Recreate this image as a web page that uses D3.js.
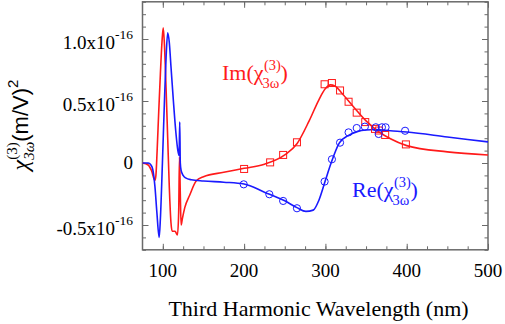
<!DOCTYPE html>
<html>
<head>
<meta charset="utf-8">
<script src="https://cdn.jsdelivr.net/npm/d3@7"></script>
<style>
  body { margin: 0; background: #fff; }
  text { font-family: "Liberation Serif", "Times New Roman", serif; }
</style>
</head>
<body>
<script>
// values in units of 1e-16 (m/V)^2, wavelength in nm
const reLineX = [75, 80, 82, 86.6, 90.3, 92.7, 95.5, 97, 99.5, 102, 104, 106, 108, 110, 113, 116, 118.5, 120, 120.8, 121.5, 122.5, 125, 128, 135, 150, 175, 200, 225, 250, 265, 276, 285, 292, 300, 307, 317, 329, 340, 350, 362, 380, 400, 450, 500];
const reLineY = [0, 0, 0, -0.03, -0.19, -0.4, -0.6, -0.45, 0, 0.5, 0.85, 1.05, 0.97, 0.78, 0.5, 0.25, 0.1, 0.06, 0.33, 0, -0.06, -0.1, -0.12, -0.135, -0.145, -0.155, -0.17, -0.235, -0.305, -0.36, -0.39, -0.38, -0.3, -0.14, 0, 0.16, 0.225, 0.255, 0.266, 0.27, 0.26, 0.25, 0.21, 0.17];

const imLineX = [75, 82, 86, 90.3, 91.5, 93, 95, 97, 99, 100.5, 102, 104, 106, 108, 110, 111.5, 115, 118, 119.5, 120.5, 121.5, 122.5, 124, 127, 133, 141, 150, 175, 200, 225, 250, 265, 280, 292, 300, 306, 312, 320, 335, 350, 365, 380, 400, 450, 500];
const imLineY = [0, -0.016, -0.06, -0.14, -0.1, 0.1, 0.42, 0.72, 0.98, 1.09, 0.95, 0.6, 0.2, -0.2, -0.48, -0.55, -0.55, -0.58, -0.4, 0.05, -0.25, -0.5, -0.45, -0.36, -0.26, -0.145, -0.11, -0.075, -0.043, -0.01, 0.065, 0.155, 0.34, 0.51, 0.6, 0.63, 0.62, 0.565, 0.45, 0.34, 0.255, 0.195, 0.14, 0.09, 0.065];

const imDataX = [200, 232, 248, 265, 299, 308, 318, 328.5, 338.5, 349, 361, 366, 373.5, 399];
const imDataY = [-0.048, 0.005, 0.065, 0.167, 0.635, 0.645, 0.585, 0.494, 0.406, 0.33, 0.275, 0.262, 0.226, 0.15];

const reDataX = [199.5, 231, 248, 265, 299, 308, 318, 328.5, 338.5, 348.5, 362, 365.5, 369.5, 374, 398];
const reDataY = [-0.172, -0.252, -0.306, -0.365, -0.15, 0.03, 0.164, 0.247, 0.282, 0.293, 0.288, 0.234, 0.288, 0.288, 0.26];

const xTicks = [100, 200, 300, 400, 500];
const yTicks = [1.0, 0.5, 0, -0.5];
const yTickLabels = ["1.0x10", "0.5x10", "0", "-0.5x10"];

const width = 505, height = 324;
const mLeft = 142.5, mRight = 488, mTop = 1.8, mBottom = 249.8;
const red = "#ff1a1a", blue = "#1a1aff", frame = "#6a6a6a";

const svg = d3.select("body").append("svg")
  .attr("width", width)
  .attr("height", height);

const x = d3.scaleLinear().domain([75, 500]).range([mLeft, mRight]);
const y = d3.scaleLinear().domain([-0.7, 1.3]).range([mBottom, mTop]);

svg.append("clipPath").attr("id", "clip")
  .append("rect")
  .attr("x", mLeft).attr("y", mTop)
  .attr("width", mRight - mLeft).attr("height", mBottom - mTop);

// ticks, inward on all four sides
const xMinor = d3.range(100, 500, 25);
const yMinor = d3.range(-0.7, 1.3001, 0.1).map(v => Math.round(v * 10) / 10);

function styleAxis(g) {
  g.select(".domain").remove();
  g.selectAll("line").attr("stroke", frame).attr("stroke-width", 1);
  g.selectAll("text").remove();
}
svg.append("g").attr("transform", `translate(0,${mBottom})`)
  .call(d3.axisBottom(x).tickValues(xMinor).tickSize(-3.5)).call(styleAxis);
svg.append("g").attr("transform", `translate(0,${mBottom})`)
  .call(d3.axisBottom(x).tickValues(xTicks).tickSize(-6)).call(styleAxis);
svg.append("g").attr("transform", `translate(0,${mTop})`)
  .call(d3.axisTop(x).tickValues(xMinor).tickSize(-3.5)).call(styleAxis);
svg.append("g").attr("transform", `translate(0,${mTop})`)
  .call(d3.axisTop(x).tickValues(xTicks).tickSize(-6)).call(styleAxis);
svg.append("g").attr("transform", `translate(${mLeft},0)`)
  .call(d3.axisLeft(y).tickValues(yMinor).tickSize(-3.5)).call(styleAxis);
svg.append("g").attr("transform", `translate(${mLeft},0)`)
  .call(d3.axisLeft(y).tickValues(yTicks).tickSize(-6)).call(styleAxis);
svg.append("g").attr("transform", `translate(${mRight},0)`)
  .call(d3.axisRight(y).tickValues(yMinor).tickSize(-3.5)).call(styleAxis);
svg.append("g").attr("transform", `translate(${mRight},0)`)
  .call(d3.axisRight(y).tickValues(yTicks).tickSize(-6)).call(styleAxis);

// frame
svg.append("rect")
  .attr("x", mLeft).attr("y", mTop)
  .attr("width", mRight - mLeft).attr("height", mBottom - mTop)
  .attr("fill", "none").attr("stroke", frame).attr("stroke-width", 1.5);

// x tick labels
svg.append("g").selectAll("text")
  .data(xTicks)
  .join("text")
  .attr("x", d => x(d))
  .attr("y", 276.5)
  .attr("text-anchor", "middle")
  .attr("font-size", 19)
  .text(d => d);

// y tick labels with exponent
const yl = svg.append("g").selectAll("text")
  .data(yTicks)
  .join("text")
  .attr("x", 133)
  .attr("y", d => y(d) + (d === 0 ? 6 : 9.8))
  .attr("text-anchor", "end")
  .attr("font-size", 19);
yl.append("tspan").text((d, i) => yTickLabels[i]);
yl.filter(d => d !== 0).append("tspan")
  .attr("font-size", 13.5)
  .attr("dy", -9.5)
  .text("-16");

// curves
const line = d3.line().curve(d3.curveMonotoneX);
const plot = svg.append("g").attr("clip-path", "url(#clip)");

plot.append("path")
  .attr("d", line(imLineX.map((v, i) => [x(v), y(imLineY[i])])))
  .attr("fill", "none").attr("stroke", red).attr("stroke-width", 1.6);
plot.append("path")
  .attr("d", line(reLineX.map((v, i) => [x(v), y(reLineY[i])])))
  .attr("fill", "none").attr("stroke", blue).attr("stroke-width", 1.6);

// markers
plot.selectAll("rect.im")
  .data(imDataX)
  .join("rect")
  .attr("class", "im")
  .attr("x", d => x(d) - 3.5)
  .attr("y", (d, i) => y(imDataY[i]) - 3.5)
  .attr("width", 7).attr("height", 7)
  .attr("fill", "none").attr("stroke", red).attr("stroke-width", 1);

plot.selectAll("circle.re")
  .data(reDataX)
  .join("circle")
  .attr("class", "re")
  .attr("cx", d => x(d))
  .attr("cy", (d, i) => y(reDataY[i]))
  .attr("r", 3.6)
  .attr("fill", "none").attr("stroke", blue).attr("stroke-width", 1);

// series labels: name(chi, superscript (3), subscript 3omega)
function chiLabel(name, px, py, color) {
  const g = svg.append("g").attr("fill", color);
  const main = g.append("text").attr("x", px).attr("y", py)
    .attr("font-size", 22).text(name + "(\u03C7");
  const w = main.node().getComputedTextLength();
  const sup = g.append("text").attr("x", px + w + 0.5).attr("y", py - 10)
    .attr("font-size", 14.5).text("(3)");
  const sub = g.append("text").attr("x", px + w - 1).attr("y", py + 7.5)
    .attr("font-size", 14.5).text("3\u03C9");
  const w2 = Math.max(sup.node().getComputedTextLength(), sub.node().getComputedTextLength());
  g.append("text").attr("x", px + w + w2).attr("y", py)
    .attr("font-size", 22).text(")");
}
chiLabel("Im", 222, 80, red);
chiLabel("Re", 352, 197, blue);

// axis titles
svg.append("text")
  .attr("x", 318.5)
  .attr("y", 316)
  .attr("text-anchor", "middle")
  .attr("font-size", 22)
  .text("Third Harmonic Wavelength (nm)");

const yt = svg.append("text")
  .attr("transform", "translate(27.5,125) rotate(-90)")
  .attr("text-anchor", "middle")
  .attr("font-size", 22);
yt.append("tspan").attr("font-style", "italic").attr("font-size", 24).text("\u03C7");
yt.append("tspan").attr("font-size", 15).attr("dy", -11).text("(3)");
yt.append("tspan").attr("font-size", 15).attr("font-style", "italic").attr("dx", -17.5).attr("dy", 17).text("3\u03C9");
yt.append("tspan").attr("font-family", "Liberation Sans, Arial, sans-serif").attr("dy", -6).text("(m/V)");
yt.append("tspan").attr("font-family", "Liberation Sans, Arial, sans-serif").attr("font-size", 15).attr("dy", -10).text("2");
</script>
</body>
</html>
